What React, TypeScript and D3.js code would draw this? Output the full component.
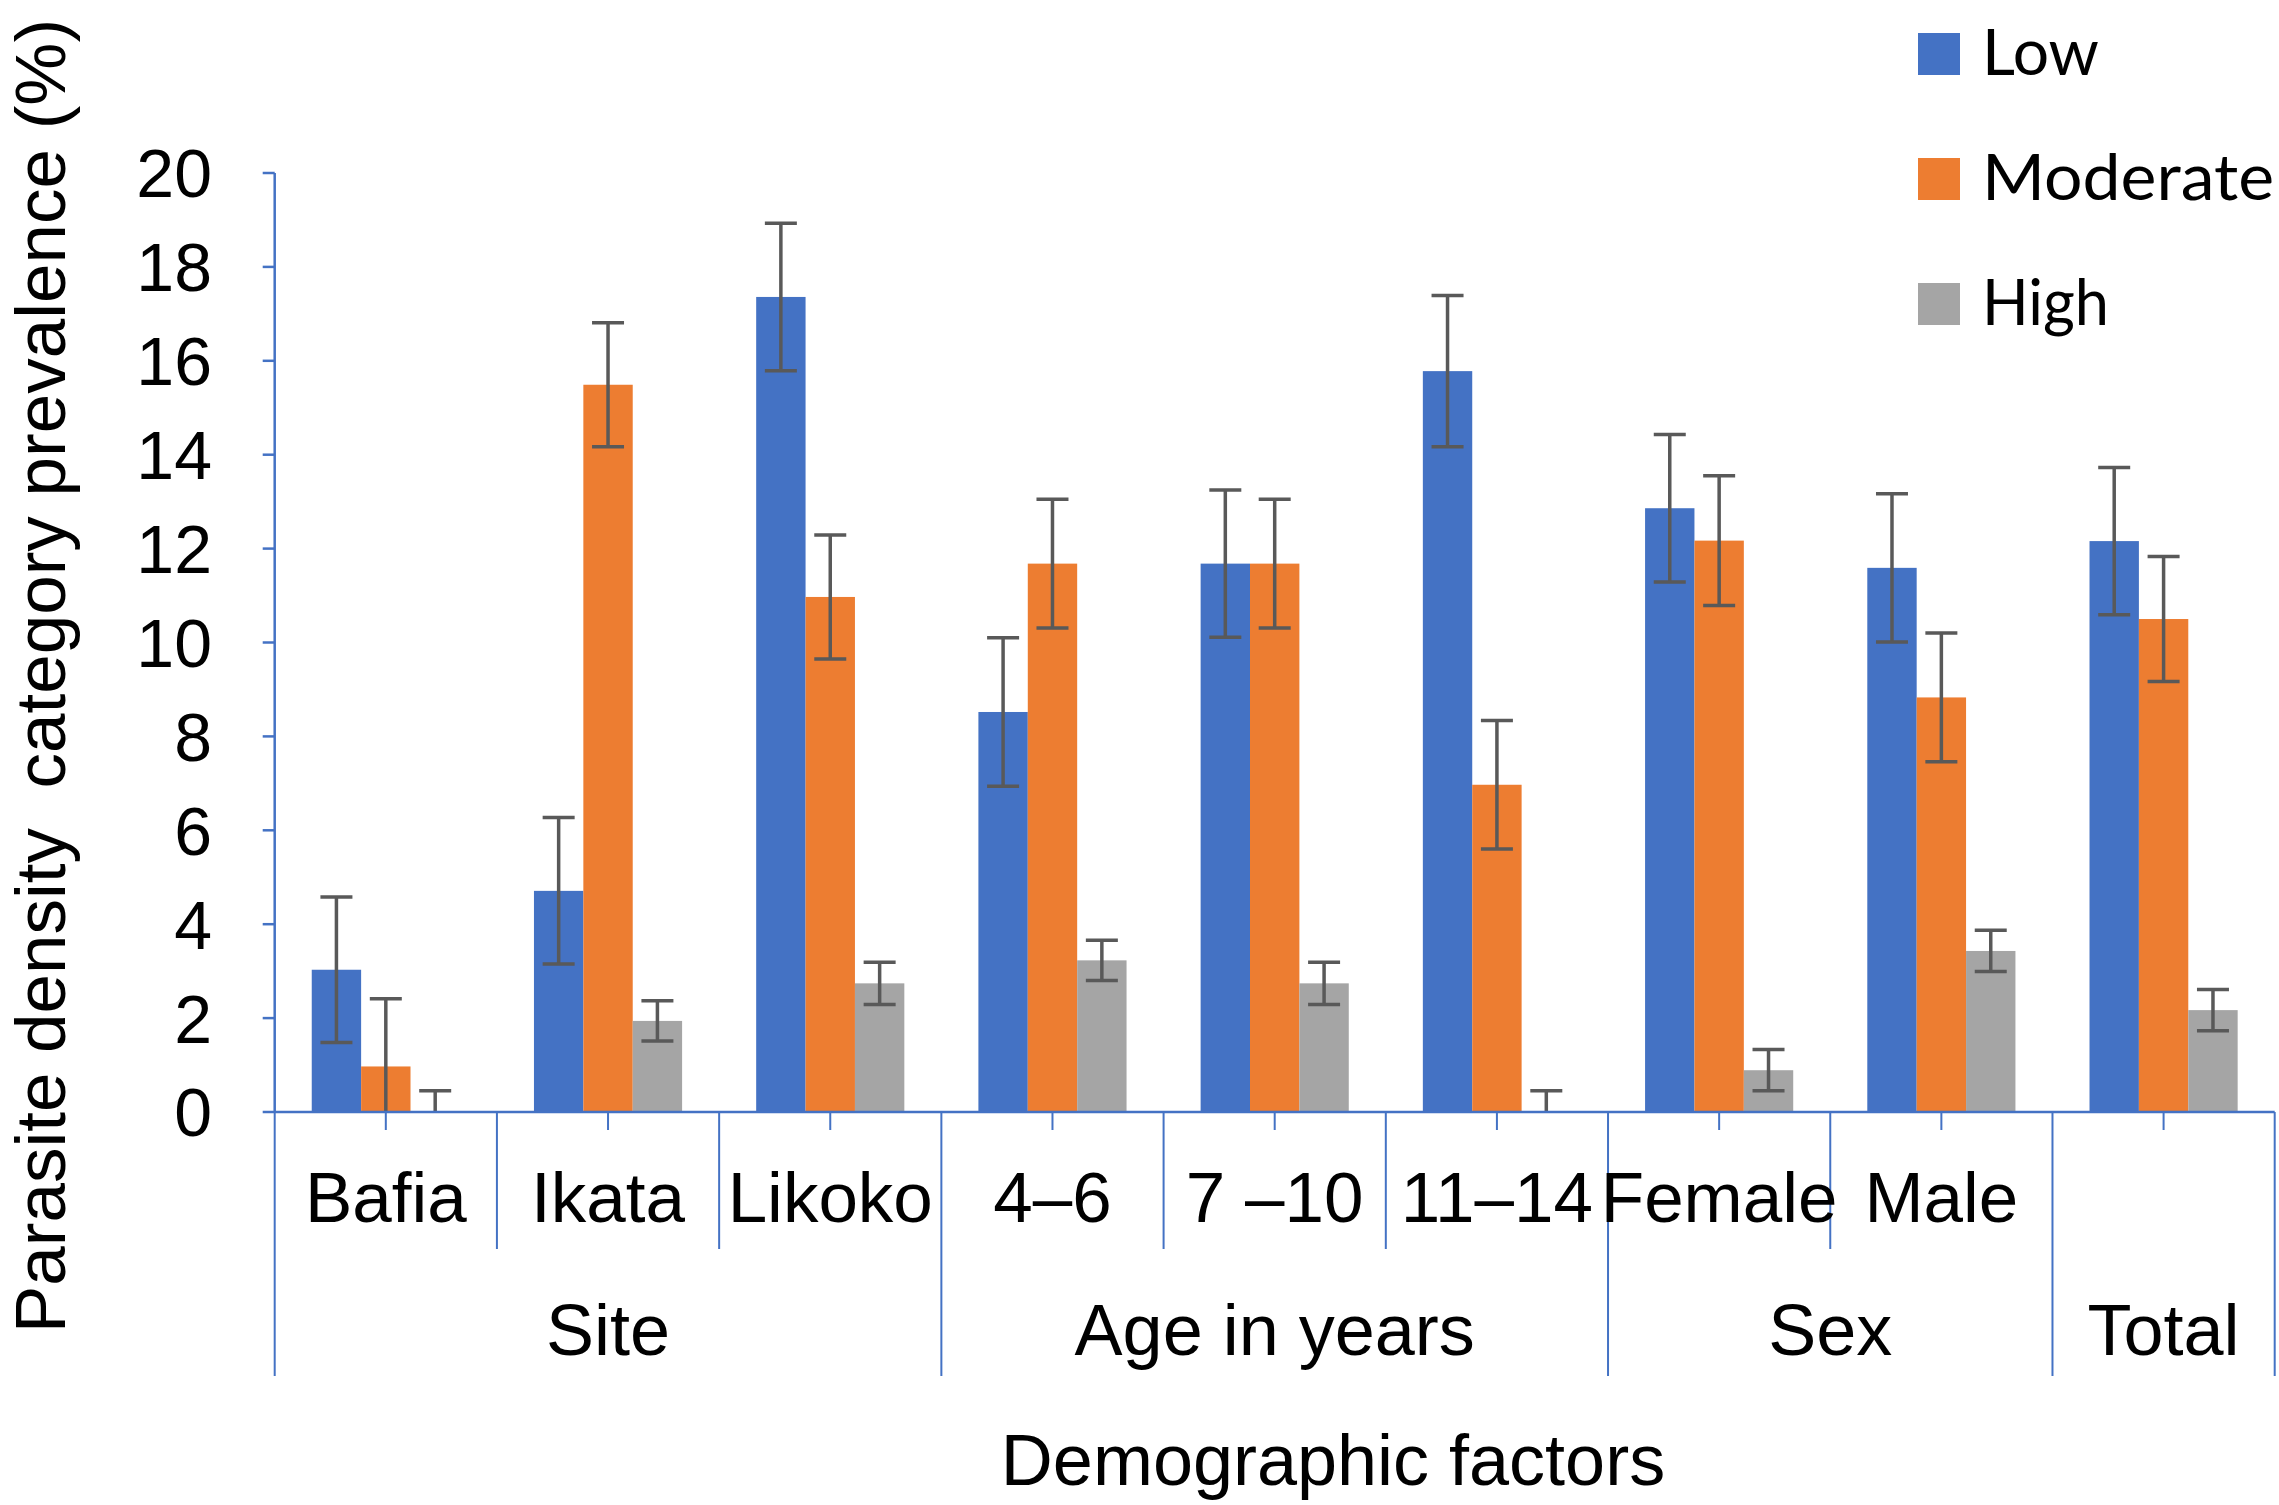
import React from "react";
import * as d3 from "d3";

const categories = ["Bafia", "Ikata", "Likoko", "4–6", "7 –10", "11–14", "Female", "Male", ""];
const groupNames = ["Site", "Age in years", "Sex", "Total"];
const groupSizes = [3, 3, 2, 1];
const seriesNames = ["Low", "Moderate", "High"];
const seriesColors = ["#4472C4", "#ED7D31", "#A5A5A5"];
const lowValues = [3.03, 4.71, 17.36, 8.52, 11.68, 15.78, 12.86, 11.59, 12.16];
const lowErrors = [1.55, 1.56, 1.57, 1.58, 1.57, 1.61, 1.57, 1.58, 1.57];
const moderateValues = [0.97, 15.49, 10.97, 11.68, 11.68, 6.97, 12.17, 8.83, 10.5];
const moderateErrors = [1.44, 1.32, 1.32, 1.37, 1.37, 1.37, 1.38, 1.37, 1.33];
const highValues = [0, 1.94, 2.74, 3.23, 2.74, 0, 0.89, 3.43, 2.17];
const highErrors = [0.45, 0.43, 0.45, 0.43, 0.45, 0.45, 0.44, 0.44, 0.44];
const yTicks = [0, 2, 4, 6, 8, 10, 12, 14, 16, 18, 20];
const yTitle = "Parasite density  category prevalence (%)";
const xTitle = "Demographic factors";

const W = 2279;
const H = 1505;
const plotLeft = 274.7;
const plotRight = 2274.7;
const plotTop = 173;
const plotBottom = 1112;
const AXIS = "#4472C4";
const ERR = "#595959";
const FONT = "'Liberation Sans', Arial, sans-serif";

export default function App() {
  const idx = categories.map((_, i) => i);
  const x0 = d3.scaleBand<number>().domain(idx).range([plotLeft, plotRight]).paddingInner(0).paddingOuter(0);
  const x1 = d3.scaleBand<number>().domain([0, 1, 2]).range([0, x0.bandwidth()]).paddingInner(0).paddingOuter(0.75);
  const y = d3.scaleLinear().domain([0, 20]).range([plotBottom, plotTop]);

  const values = [lowValues, moderateValues, highValues];
  const errors = [lowErrors, moderateErrors, highErrors];

  const bars: any[] = [];
  const errs: any[] = [];
  values.forEach((vals, s) => {
    vals.forEach((v, i) => {
      const bx = (x0(i) as number) + (x1(s) as number);
      const bw = x1.bandwidth();
      if (v > 0) {
        bars.push(
          <rect key={`b${s}-${i}`} x={bx} y={y(v)} width={bw} height={y(0) - y(v)} fill={seriesColors[s]} />
        );
      }
      const cx = bx + bw / 2;
      const e = errors[s][i];
      const top = y(v + e);
      const bot = y(Math.max(0, v - e));
      const capHalf = 16;
      errs.push(
        <g key={`e${s}-${i}`} stroke={ERR} strokeWidth={3.5}>
          <line x1={cx} x2={cx} y1={top} y2={bot} />
          <line x1={cx - capHalf} x2={cx + capHalf} y1={top} y2={top} />
          {v - e > 0 && <line x1={cx - capHalf} x2={cx + capHalf} y1={bot} y2={bot} />}
        </g>
      );
    });
  });

  const groupBounds: number[] = [0];
  groupSizes.forEach((s) => groupBounds.push(groupBounds[groupBounds.length - 1] + s));
  const catBoundaries = d3.range(categories.length + 1);
  const shortEnd = 1249;
  const longEnd = 1376;

  return (
    <div style={{ position: "absolute", left: 0, top: 0 }}>
      <svg width={W} height={H} style={{ display: "block", background: "#fff" }}>
        <rect x={0} y={0} width={W} height={H} fill="#fff" />
        {bars}
        {errs}
        <line x1={plotLeft} x2={plotLeft} y1={plotTop} y2={plotBottom} stroke={AXIS} strokeWidth={2.5} />
        {yTicks.map((t) => (
          <g key={`yt${t}`}>
            <line x1={plotLeft - 12} x2={plotLeft} y1={y(t)} y2={y(t)} stroke={AXIS} strokeWidth={2.5} />
            <text x={212} y={y(t)} dy="0.36em" textAnchor="end" fontFamily={FONT} fontSize={68} fill="#000">
              {t}
            </text>
          </g>
        ))}
        <line x1={plotLeft} x2={plotRight} y1={plotBottom} y2={plotBottom} stroke={AXIS} strokeWidth={2.5} />
        {catBoundaries.map((b) => {
          const xp = b < categories.length ? (x0(b) as number) : plotRight;
          const isGroup = groupBounds.includes(b);
          return (
            <line key={`cb${b}`} x1={xp} x2={xp} y1={plotBottom} y2={isGroup ? longEnd : shortEnd} stroke={AXIS} strokeWidth={2} />
          );
        })}
        {idx.map((i) => {
          const cx = (x0(i) as number) + x0.bandwidth() / 2;
          return <line key={`ct${i}`} x1={cx} x2={cx} y1={plotBottom} y2={1130} stroke={AXIS} strokeWidth={2} />;
        })}
        {categories.map((c, i) => (
          <text key={`cl${i}`} x={(x0(i) as number) + x0.bandwidth() / 2} y={1222} textAnchor="middle" fontFamily={FONT} fontSize={71} fill="#000">
            {c}
          </text>
        ))}
        {groupNames.map((g, gi) => {
          const a = x0(groupBounds[gi]) as number;
          const bIdx = groupBounds[gi + 1];
          const b = bIdx < categories.length ? (x0(bIdx) as number) : plotRight;
          return (
            <text key={`gl${gi}`} x={(a + b) / 2} y={1355} textAnchor="middle" fontFamily={FONT} fontSize={72} fill="#000">
              {g}
            </text>
          );
        })}
        <text x={1333} y={1485} textAnchor="middle" fontFamily={FONT} fontSize={72} fill="#000">
          {xTitle}
        </text>
        <text
          transform={`translate(65, 676) rotate(-90)`}
          textAnchor="middle"
          fontFamily={FONT}
          fontSize={71}
          fill="#000"
          style={{ whiteSpace: "pre" }}
        >
          {yTitle}
        </text>
        {seriesNames.map((s, i) => {
          const base = [75, 200, 325][i];
          const lens = [117, 292, 127][i];
          return (
            <g key={`lg${i}`}>
              <rect x={1918} y={base - 42} width={42} height={42} fill={seriesColors[i]} />
              <text x={1982} y={base} fontFamily="Lato, 'Open Sans', sans-serif" fontSize={64} fill="#000" textLength={lens} lengthAdjust="spacingAndGlyphs">
                {s}
              </text>
            </g>
          );
        })}
      </svg>
    </div>
  );
}
